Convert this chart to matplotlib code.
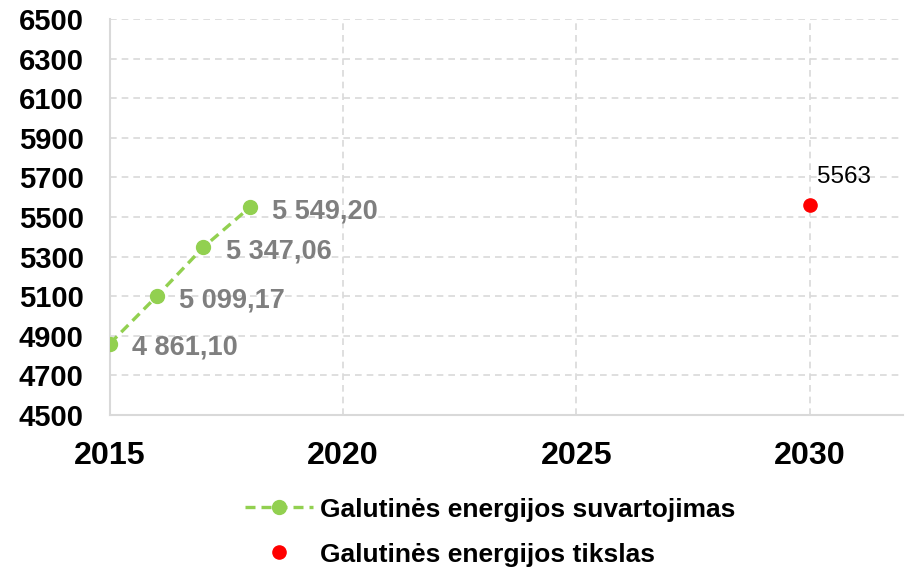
import matplotlib.pyplot as plt

plt.rcParams['font.family'] = ['Liberation Sans', 'DejaVu Sans']

# data
years = [2015, 2016, 2017, 2018]
consumption = [4861.10, 5099.17, 5347.06, 5549.20]
consumption_labels = ['4 861,10', '5 099,17', '5 347,06', '5 549,20']
target_year = [2030]
target = [5563]
target_labels = ['5563']
x_ticks = [2015, 2020, 2025, 2030]
y_ticks = list(range(4500, 6501, 200))
series_names = ['Galutinės energijos suvartojimas', 'Galutinės energijos tikslas']

green = '#92d050'
grid_c = '#d9d9d9'

fig = plt.figure(figsize=(9.06, 5.71), dpi=100)
ax = fig.add_axes([0.1214, 0.2732, 0.8753, 0.6935])

line, = ax.plot(years, consumption, color=green, linestyle=(0, (3, 1.8)), linewidth=2.4,
                marker='o', markersize=10, zorder=3)
pt, = ax.plot(target_year, target, linestyle='none', color='#ff0000', marker='o',
              markersize=9.5, zorder=3)

for x, y, s in zip(years, consumption, consumption_labels):
    ax.annotate(s, (x, y), xytext=(16, -3), textcoords='offset points',
                ha='left', va='center', fontsize=19.5, fontweight='bold', color='#7f7f7f')
for x, y, s in zip(target_year, target, target_labels):
    ax.annotate(s, (x, y), xytext=(5, 20), textcoords='offset points',
                ha='left', va='center', fontsize=17.5, color='black')

ax.set_xlim(2015, 2032)
ax.set_ylim(4500, 6500)
ax.set_xticks(x_ticks)
ax.set_yticks(y_ticks)
ax.grid(True, color=grid_c, linestyle=(0, (4, 3)), linewidth=1.2)
ax.set_axisbelow(True)

for side in ['top', 'right']:
    ax.spines[side].set_visible(False)
for side in ['left', 'bottom']:
    ax.spines[side].set_color(grid_c)
    ax.spines[side].set_linewidth(1.5)

ax.tick_params(axis='y', length=0, pad=19, labelsize=21)
ax.tick_params(axis='x', length=0, pad=19, labelsize=23.2)
for lbl in ax.get_xticklabels() + ax.get_yticklabels():
    lbl.set_fontweight('bold')

fig.legend([line, pt], series_names, loc='center', bbox_to_anchor=(0.541, 0.068),
           frameon=False, ncol=1, handlelength=2.6, handletextpad=0.25,
           labelspacing=0.8, prop={'size': 19, 'weight': 'bold'})

fig.savefig('out.png', dpi=100)
